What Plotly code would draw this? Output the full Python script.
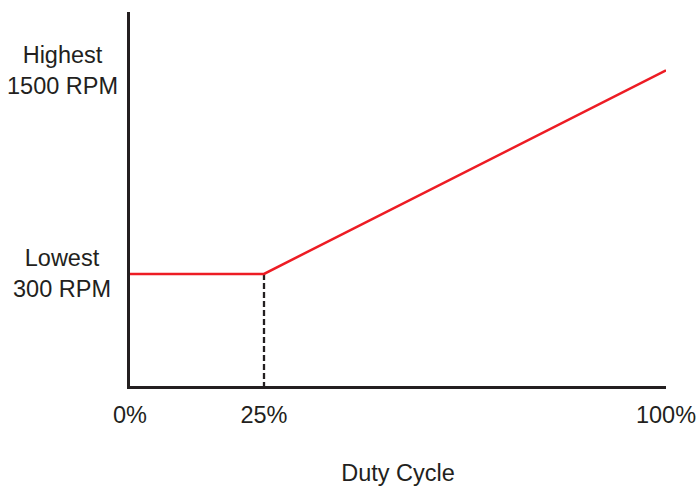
import plotly.graph_objects as go

# Data
duty_cycle = [0, 25, 100]          # percent
fan_speed = [300, 300, 1500]        # RPM
x_tick_vals = [0, 25, 100]
x_tick_text = ["0%", "25%", "100%"]
y_label_vals = [1500, 300]
y_label_text = ["Highest<br>1500 RPM", "Lowest<br>300 RPM"]
knee_x = 25
knee_y = 300

Y_MIN, Y_MAX = -361, 1844
INK = "#231f20"
FONT = "Arial, Liberation Sans, Helvetica, sans-serif"
FS = 23.5

fig = go.Figure()

fig.add_trace(go.Scatter(
    x=[knee_x, knee_x], y=[knee_y, Y_MIN], mode="lines",
    line=dict(color=INK, width=2.3, dash="6px,3px"),
    hoverinfo="skip", showlegend=False, cliponaxis=False,
))
fig.add_trace(go.Scatter(
    x=duty_cycle, y=fan_speed, mode="lines",
    line=dict(color="#ed1c24", width=2.5),
    showlegend=False, cliponaxis=False,
))

for v, t in zip(y_label_vals, y_label_text):
    fig.add_annotation(
        x=0, xref="paper", y=v, yref="y", text=t, showarrow=False,
        xanchor="center", yanchor="middle", align="center", xshift=-68,
        font=dict(family=FONT, size=FS, color=INK),
    )

fig.update_layout(
    template="none",
    width=697, height=488,
    margin=dict(l=130, r=31, t=12, b=102, autoexpand=False),
    plot_bgcolor="white", paper_bgcolor="white",
    font=dict(family=FONT, size=FS, color=INK),
    xaxis=dict(
        automargin=False,
        range=[0, 100], showgrid=False, zeroline=False,
        showline=True, linecolor=INK, linewidth=2.5,
        tickvals=x_tick_vals, ticktext=x_tick_text,
        ticks="outside", ticklen=6, tickcolor="rgba(0,0,0,0)",
        tickfont=dict(family=FONT, size=FS, color=INK),
        title=dict(text="Duty Cycle", standoff=38,
                   font=dict(family=FONT, size=FS, color=INK)),
    ),
    yaxis=dict(
        automargin=False,
        range=[Y_MIN, Y_MAX], showgrid=False, zeroline=False,
        showline=True, linecolor=INK, linewidth=2.5,
        showticklabels=False, ticks="",
    ),
)

fig.write_html(
    "out.html",
    config={"displayModeBar": False},
    post_script="document.documentElement.style.overflow='hidden';document.body.style.margin='0';document.body.style.overflow='hidden';",
)
